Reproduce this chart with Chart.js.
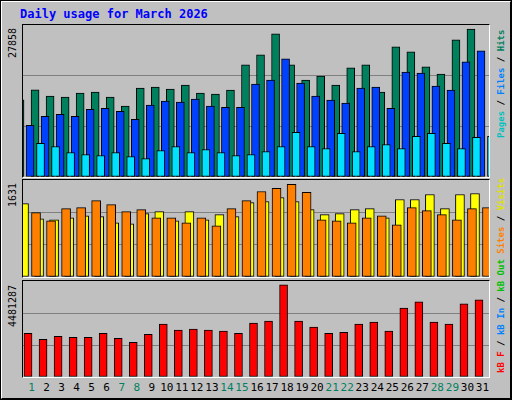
<!DOCTYPE html>
<html>
<head>
<meta charset="utf-8">
<script src="https://cdn.jsdelivr.net/npm/chart.js@4/dist/chart.umd.min.js"></script>
<style>
  body { margin: 0; background: #c0c0c0; }
  #frame { position: absolute; left: 0; top: 0; width: 508px; height: 396px; background: #c0c0c0;
    border: 2px solid; border-color: #ffffff #000000 #000000 #ffffff; outline: 1px solid #000; outline-offset: -1px; }
  .panel { position: absolute; left: 22px; width: 466px; border: 1px solid; border-color: #000 #fff #fff #000; }
  .txt { position: absolute; font-family: 'DejaVu Sans Mono', monospace; white-space: nowrap; }
  .rot { transform-origin: 0 0; transform: rotate(-90deg); }
</style>
</head>
<body>
<div id="frame"></div>
<div class="txt" style="left:20px;top:7px;font-size:12px;font-weight:bold;color:#0000ff">Daily usage for March 2026</div>
<div class="panel" style="top:24px;height:152px"><canvas id="c1"></canvas></div>
<div class="panel" style="top:179px;height:97px"><canvas id="c2"></canvas></div>
<div class="panel" style="top:280px;height:96px"><canvas id="c3"></canvas></div>
<div class="txt rot" style="left:7px;top:58px;font-size:10px">27858</div>
<div class="txt rot" style="left:7px;top:207px;font-size:10px">1631</div>
<div class="txt rot" style="left:7px;top:327px;font-size:10px">4481287</div>
<div class="txt rot" style="left:496px;top:138px;font-size:9px;font-weight:bold"><span style="color:#00c0c0">Pages</span> / <span style="color:#0080ff">Files</span> / <span style="color:#008060">Hits</span></div>
<div class="txt rot" style="left:496px;top:373px;font-size:9px;font-weight:bold"><span style="color:#ff0000">kB F</span> / <span style="color:#0080ff">kB In</span> / <span style="color:#00c000">kB Out</span> <span style="color:#ff8000">Sites</span> / <span style="color:#e0e000">Visits</span></div>
<div id="days"></div>
<script>
let days = [];
for (let i = 1; i <= 31; i++) days.push(i);
let weekends = [1, 7, 8, 14, 15, 21, 22, 28, 29];

let hits = [14529, 16424, 15224, 15034, 15793, 15982, 15034, 13329, 16740, 16930, 16551, 17309, 15793, 15603, 16361, 21099, 22994, 26974, 21099, 18256, 19014, 17309, 20530, 21099, 15982, 24510, 23562, 20720, 19393, 25837, 27858];
let files = [9728, 11434, 11813, 11434, 12760, 12950, 12381, 10865, 13518, 14276, 14087, 14655, 13329, 13139, 13139, 17498, 18256, 22236, 17688, 15224, 14466, 13897, 16740, 16930, 12950, 19772, 19583, 17119, 16361, 21667, 23752];
let pages = [6317, 5748, 4611, 4232, 4043, 4611, 3853, 3474, 4990, 5748, 4611, 5180, 4611, 4043, 4232, 4801, 5748, 8402, 5748, 5369, 8212, 4801, 5748, 6127, 5369, 7644, 8212, 6317, 5369, 7454, 7644];
let visits = [1293, 1026, 1008, 1044, 1079, 1062, 955, 937, 1115, 1151, 990, 1151, 1008, 1097, 1062, 1311, 1329, 1400, 1329, 1186, 1097, 1115, 1186, 1204, 1044, 1364, 1364, 1453, 1204, 1453, 1471];
let sites = [1133, 990, 1204, 1222, 1346, 1275, 1151, 1186, 1044, 1044, 955, 1044, 902, 1204, 1346, 1506, 1560, 1631, 1489, 1008, 990, 955, 1044, 1079, 919, 1222, 1168, 1097, 1008, 1204, 1222];
let kbytes = [2126150, 1831760, 1978955, 1929890, 1929890, 2126150, 1880825, 1684565, 2077085, 2567735, 2273345, 2322410, 2273345, 2224280, 2126150, 2616800, 2714930, 4481287, 2714930, 2420540, 2126150, 2175215, 2567735, 2665865, 2224280, 3352775, 3647165, 2665865, 2567735, 3549035, 3745295];

const slot = 466 / 31;

// shift a hidden x axis so its bars move by px pixels
function xAxis(px) {
  let d = px / slot;
  return { type: 'linear', display: false, offset: false, bounds: 'ticks',
    min: 0.5 - d, max: 31.5 - d, grid: { offset: false } };
}

function makeChart(id, yMax, sets) {
  let scales = {
    y: {
      min: 0, max: yMax,
      ticks: { display: false, stepSize: yMax / 3 },
      border: { display: false },
      grid: { drawTicks: false, color: c => (c.index === 1 || c.index === 2) ? '#808080' : 'rgba(0,0,0,0)', lineWidth: 1 },
      afterFit: s => { s.width = 0; }
    }
  };
  let datasets = sets.map((s, i) => {
    scales['x' + i] = xAxis(s.off);
    return {
      data: s.data.map((v, k) => ({ x: days[k], y: v })),
      xAxisID: 'x' + i,
      backgroundColor: s.color,
      borderColor: '#000',
      borderWidth: 1,
      borderSkipped: false,
      barThickness: s.w,
      order: s.order
    };
  });
  return new Chart(document.getElementById(id), {
    type: 'bar',
    data: { datasets: datasets },
    options: {
      responsive: true, maintainAspectRatio: false, animation: false,
      layout: { padding: 0 },
      plugins: { legend: { display: false }, tooltip: { enabled: false } },
      scales: scales
    }
  });
}

makeChart('c1', 28616, [
  { data: hits, color: '#00805c', off: -2.5, w: 8, order: 3 },
  { data: files, color: '#0040ff', off: -0.5, w: 8, order: 2 },
  { data: pages, color: '#00e0ff', off: 2, w: 8, order: 1 }
]);
makeChart('c2', 1708, [
  { data: visits, color: '#ffff00', off: -2, w: 9, order: 2 },
  { data: sites, color: '#ff8000', off: 1, w: 9, order: 1 }
]);
makeChart('c3', 4662000, [
  { data: kbytes, color: '#ff0000', off: -2.5, w: 8, order: 1 }
]);

let daysNode = document.getElementById('days');
days.forEach((d, i) => {
  let color = weekends.includes(d) ? '#008060' : '#000';
  let x = 23 + slot * (i + 0.5) + 1;
  daysNode.insertAdjacentHTML('beforeend',
    '<div class="txt" style="font-size:11px;top:381px;width:20px;text-align:center;left:' + (x - 10) + 'px;color:' + color + '">' + d + '</div>');
});
</script>
</body>
</html>
